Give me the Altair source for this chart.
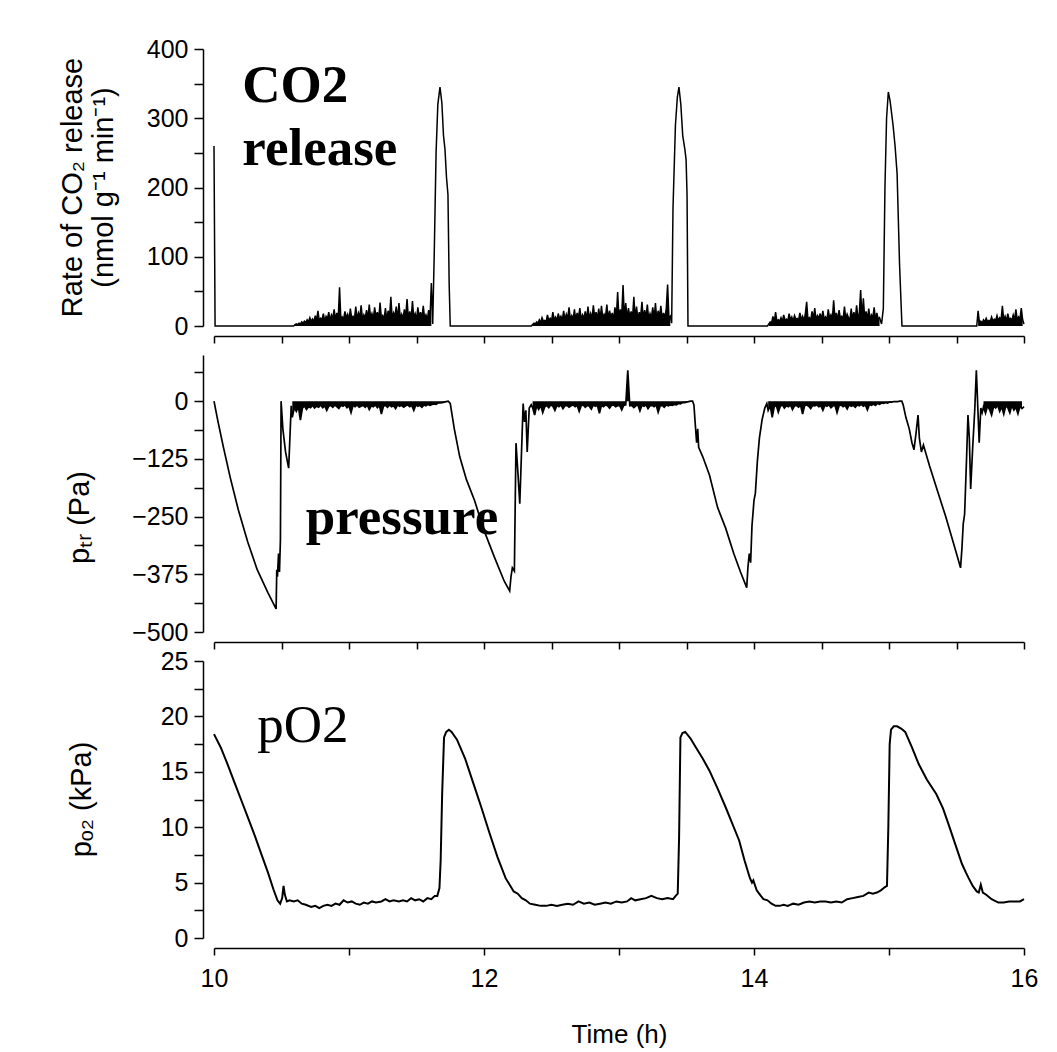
import altair as alt
import pandas as pd

# ---------------- CO2 release (nmol g-1 min-1) ----------------
co2_step = 0.01
co2_head_t = [10.0, 10.008, 10.59]
co2_head_v = [260, 0, 0]

co2_burst1_start = 10.60
co2_burst1 = [2, 3, 2, 4, 3, 6, 4, 7, 5, 9,
              6, 12, 7, 10, 6, 15, 8, 22, 7, 11,
              9, 18, 7, 14, 10, 20, 8, 16, 11, 24,
              9, 19, 10, 56, 8, 13, 10, 21, 12, 17,
              8, 25, 11, 14, 9, 28, 10, 19, 13, 30,
              9, 16, 11, 23, 10, 31, 12, 18, 10, 27,
              13, 20, 9, 34, 11, 15, 10, 26, 9, 22,
              12, 42, 10, 19, 14, 28, 9, 33, 11, 17,
              10, 24, 13, 39, 10, 21, 9, 36, 12, 18,
              9, 27, 13, 20, 10, 29, 11, 16, 9, 23,
              10, 62]
co2_peak1_t = [11.62, 11.632, 11.645, 11.658, 11.674, 11.688, 11.70, 11.711, 11.722, 11.733, 11.742, 11.75, 12.35]
co2_peak1_v = [3, 110, 250, 320, 345, 322, 275, 255, 215, 190, 60, 0, 0]

co2_burst2_start = 12.36
co2_burst2 = [2, 4, 3, 6, 4, 9, 5, 12, 7, 8,
              6, 16, 8, 11, 7, 20, 9, 13, 8, 18,
              10, 14, 8, 22, 9, 17, 11, 27, 9, 15,
              10, 24, 8, 19, 12, 26, 9, 16, 11, 21,
              9, 28, 11, 18, 10, 30, 13, 20, 10, 25,
              9, 29, 11, 17, 13, 31, 10, 22, 12, 19,
              9, 27, 12, 49, 10, 24, 14, 59, 11, 33,
              10, 26, 13, 21, 11, 42, 10, 28, 9, 20,
              13, 35, 10, 23, 12, 31, 9, 18, 12, 27,
              10, 33, 9, 22, 13, 29, 10, 19, 11, 25,
              60, 11, 14]
co2_peak2_t = [13.39, 13.40, 13.418, 13.432, 13.444, 13.458, 13.472, 13.488, 13.497, 13.504, 13.511, 14.10]
co2_peak2_v = [4, 170, 290, 330, 345, 320, 275, 255, 240, 190, 0, 0]

co2_burst3_start = 14.11
co2_burst3 = [3, 6, 4, 14, 6, 20, 6, 9, 7, 12,
              6, 16, 8, 10, 7, 18, 9, 13, 7, 15,
              10, 11, 8, 19, 9, 14, 8, 17, 35, 9,
              12, 8, 21, 10, 26, 8, 15, 11, 18, 9,
              22, 10, 13, 8, 24, 11, 16, 9, 37, 10,
              19, 8, 23, 11, 14, 9, 28, 10, 17, 12,
              8, 25, 10, 20, 9, 30, 11, 18, 52, 10,
              40, 12, 21, 9, 25, 10, 16, 12, 27, 9,
              19, 10, 12]
co2_peak3_t = [14.945, 14.958, 14.97, 14.982, 14.995, 15.008, 15.03, 15.045, 15.06, 15.078, 15.096, 15.65]
co2_peak3_v = [3, 25, 200, 300, 338, 325, 290, 260, 220, 90, 0, 0]

co2_burst4_start = 15.66
co2_burst4 = [22, 5, 7, 4, 9, 6, 11, 6, 8, 7,
              13, 7, 10, 8, 15, 8, 12, 9, 29, 8,
              14, 7, 18, 9, 11, 8, 16, 9, 24, 8,
              13, 10, 26, 9]
co2_tail_t = [16.0]
co2_tail_v = [3]

# ---------------- Tracheal pressure (Pa) ----------------
p_step = 0.015
p_cyc0_t = [10.0, 10.03, 10.07, 10.12, 10.18, 10.25, 10.32, 10.40, 10.46,
            10.465, 10.47, 10.478, 10.485, 10.492, 10.497, 10.51, 10.53, 10.553, 10.565, 10.572]
p_cyc0_v = [0, -45, -100, -165, -235, -305, -365, -415, -450,
            -365, -380, -330, -370, -300, 0, -60, -110, -145, -60, -10]
p_flatA_start = 10.58
p_flatA = [-35, -14, -22, -12, -41, -15, -10, -18, -12, -14,
           -9, -15, -11, -13, -8, -14, -10, -20, -11, -9,
           -13, -8, -12, -16, -9, -11, -8, -14, -10, -25,
           -9, -12, -8, -13, -11, -9, -13, -8, -18, -10,
           -12, -8, -14, -9, -28, -11, -9, -13, -8, -12,
           -10, -16, -8, -11, -9, -13, -10, -8, -12, -9,
           -20, -8, -11, -9, -13, -8, -10, -7, -9, -7,
           -6, -7, -4, -4, -3, -2, -1, 0]
p_cyc1_t = [11.75, 11.78, 11.82, 11.87, 11.93, 12.0, 12.08, 12.15, 12.19,
            12.20, 12.21, 12.225, 12.237, 12.25, 12.265, 12.29, 12.30, 12.31, 12.32, 12.335, 12.35]
p_cyc1_v = [-5, -60, -120, -170, -215, -280, -340, -390, -411,
            -380, -361, -368, -91, -150, -222, -5, -45, -20, -110, -15, -8]
p_flatB_start = 12.36
p_flatB = [-14, -30, -10, -18, -9, -25, -12, -9, -14, -8,
           -11, -20, -9, -12, -8, -16, -10, -9, -13, -10,
           -8, -12, -9, -22, -10, -8, -13, -9, -11, -17,
           -8, -11, -9, -26, -9, -12, -8, -10, -15, -9,
           -8, -12, -10, -9, -19, -9, -8, 67, -10, -9,
           -14, -10, -8, -21, -9, -11, -8, -16, -10, -9,
           -12, -8, -24, -10, -9, -13, -8, -10, -8, -9,
           -7, -8, -5, -6, -3, -3, -2, -1, 0, 0]
p_cyc2_t = [13.555, 13.565, 13.575, 13.583, 13.59, 13.62, 13.67, 13.73, 13.79, 13.85, 13.90, 13.946,
            13.955, 13.965, 13.975, 13.985, 14.0, 14.01, 14.025, 14.04, 14.06, 14.08, 14.095]
p_cyc2_v = [-8, -50, -90, -60, -100, -120, -160, -230, -275, -330, -370, -404,
            -360, -330, -350, -270, -215, -200, -130, -80, -40, -15, -5]
p_flatC_start = 14.105
p_flatC = [-20, -10, -35, -12, -9, -24, -11, -8, -15, -10,
           -12, -8, -18, -10, -9, -13, -9, -28, -10, -8,
           -11, -16, -9, -10, -8, -12, -10, -20, -9, -11,
           -8, -14, -10, -9, -25, -10, -8, -12, -9, -17,
           -8, -11, -9, -13, -8, -10, -7, -11, -8, -19,
           -7, -9, -6, -9, -5, -7, -4, -5, -3, -4,
           -2, -2, -1, -1, -1, 0, 0]
p_cyc3_t = [15.105, 15.125, 15.15, 15.17, 15.185, 15.20, 15.215, 15.225, 15.24, 15.255, 15.30, 15.36,
            15.42, 15.48, 15.53, 15.54, 15.55, 15.56, 15.575, 15.585, 15.595, 15.605, 15.62, 15.635,
            15.647, 15.66, 15.668, 15.68, 15.69]
p_cyc3_v = [-8, -35, -60, -90, -105, -70, -30, -80, -110, -95, -140, -195,
            -250, -310, -361, -320, -265, -245, -120, -30, -80, -190, -100, -20,
            67, -30, -90, -15, -25]
p_flatD_start = 15.70
p_flatD = [-12, -26, -10, -18, -30, -11, -15, -9, -22, -12,
           -28, -10, -14, -25, -9, -19, -13, -27, -11, -16]
p_tail_t = [16.0]
p_tail_v = [-12]

# ---------------- pO2 (kPa) ----------------
po2_t = [10.0, 10.05, 10.10, 10.15, 10.20, 10.25, 10.30, 10.35, 10.40, 10.44, 10.47, 10.49,
         10.505, 10.515, 10.525, 10.54, 10.56, 10.59, 10.62, 10.65, 10.68, 10.72, 10.75, 10.78,
         10.81, 10.84, 10.87, 10.90, 10.93, 10.96, 10.99, 11.02, 11.05, 11.08, 11.11, 11.14,
         11.17, 11.20, 11.24, 11.27, 11.30, 11.33, 11.37, 11.40, 11.43, 11.46, 11.49, 11.52,
         11.55, 11.58, 11.61, 11.635, 11.654, 11.67, 11.679, 11.69, 11.704, 11.72, 11.74, 11.76,
         11.80, 11.86, 11.92, 11.98, 12.04, 12.10, 12.16, 12.20, 12.22, 12.25, 12.28, 12.31,
         12.34, 12.38, 12.42, 12.46, 12.50, 12.54, 12.58, 12.62, 12.66, 12.70, 12.74, 12.78,
         12.82, 12.86, 12.90, 12.94, 12.98, 13.02, 13.06, 13.09, 13.12, 13.16, 13.20, 13.24,
         13.28, 13.32, 13.36, 13.40, 13.42, 13.435, 13.445, 13.455, 13.47, 13.49, 13.51, 13.53,
         13.57, 13.62, 13.67, 13.73, 13.79, 13.84, 13.89, 13.93, 13.97, 13.985, 13.995, 14.02,
         14.045, 14.07, 14.10, 14.13, 14.16, 14.19, 14.22, 14.25, 14.29, 14.33, 14.37, 14.41,
         14.45, 14.49, 14.53, 14.57, 14.61, 14.65, 14.69, 14.73, 14.77, 14.81, 14.85, 14.88,
         14.91, 14.94, 14.97, 14.985, 14.995, 15.005, 15.015, 15.035, 15.06, 15.09, 15.12, 15.17,
         15.22, 15.28, 15.35, 15.40, 15.44, 15.49, 15.54, 15.57, 15.59, 15.62, 15.65, 15.665,
         15.68, 15.695, 15.72, 15.76, 15.81, 15.85, 15.89, 15.93, 15.97, 16.0]
po2_v = [18.4, 17.2, 15.7, 14.1, 12.5, 10.9, 9.3, 7.6, 5.9, 4.4, 3.4, 3.1,
         3.6, 4.7, 3.9, 3.3, 3.4, 3.3, 3.4, 3.1, 3.0, 2.8, 2.9, 2.7,
         2.9, 3.0, 2.9, 3.1, 3.0, 3.4, 3.2, 3.3, 3.1, 3.0, 3.2, 3.1,
         3.3, 3.2, 3.3, 3.5, 3.3, 3.4, 3.3, 3.4, 3.3, 3.6, 3.4, 3.5,
         3.3, 3.6, 3.5, 3.8, 3.8, 4.5, 7.0, 13.0, 18.1, 18.6, 18.8, 18.6,
         17.9, 16.2, 14.0, 11.8, 9.5, 7.3, 5.4, 4.6, 4.2, 4.0, 3.6, 3.4,
         3.1, 3.0, 2.9, 2.9, 3.0, 2.9, 3.0, 3.1, 3.0, 3.3, 3.1, 3.2,
         3.0, 3.1, 3.2, 3.1, 3.3, 3.2, 3.3, 3.6, 3.4, 3.5, 3.6, 3.8,
         3.6, 3.5, 3.6, 3.5, 3.8, 4.0, 9.0, 18.1, 18.5, 18.6, 18.3, 18.0,
         17.2, 16.2, 15.1, 13.5, 11.8, 10.3, 8.8, 7.0, 5.4, 5.0, 5.2, 4.3,
         3.9, 3.5, 3.4, 3.1, 2.9, 2.9, 3.0, 2.9, 3.1, 3.0, 3.2, 3.3,
         3.2, 3.3, 3.3, 3.2, 3.3, 3.2, 3.5, 3.6, 3.7, 3.8, 4.1, 4.0,
         4.1, 4.3, 4.6, 4.7, 10.0, 17.5, 18.8, 19.1, 19.1, 18.9, 18.6, 17.2,
         15.7, 14.3, 13.0, 11.7, 10.3, 8.5, 6.7, 5.9, 5.4, 4.7, 4.2, 4.1,
         4.8, 4.1, 3.9, 3.5, 3.2, 3.2, 3.3, 3.3, 3.3, 3.5]

# ---------------- annotations ----------------
co2_note_label = ["CO2", "release"]
co2_note_t = [10.21, 10.21]
co2_note_v = [323, 232]
p_note_label = ["pressure"]
p_note_t = [10.68]
p_note_v = [-287]
po2_note_label = ["pO2"]
po2_note_t = [10.32]
po2_note_v = [17.7]


def regular(start, step, values, seg):
    return [round(start + i * step, 4) for i in range(len(values))], list(values), seg


def plain(t, v):
    return list(t), list(v), 0


def assemble(parts):
    ts, vs, ss = [], [], []
    for t, v, s in parts:
        ts += list(t)
        vs += list(v)
        ss += [s] * len(t)
    return pd.DataFrame({"t": ts, "v": vs, "base": [0] * len(ts), "seg": ss,
                         "i": list(range(len(ts)))})


co2_df = assemble([
    plain(co2_head_t, co2_head_v),
    regular(co2_burst1_start, co2_step, co2_burst1, 1),
    plain(co2_peak1_t, co2_peak1_v),
    regular(co2_burst2_start, co2_step, co2_burst2, 2),
    plain(co2_peak2_t, co2_peak2_v),
    regular(co2_burst3_start, co2_step, co2_burst3, 3),
    plain(co2_peak3_t, co2_peak3_v),
    regular(co2_burst4_start, co2_step, co2_burst4, 4),
    plain(co2_tail_t, co2_tail_v),
])
p_df = assemble([
    plain(p_cyc0_t, p_cyc0_v),
    regular(p_flatA_start, p_step, p_flatA, 1),
    plain(p_cyc1_t, p_cyc1_v),
    regular(p_flatB_start, p_step, p_flatB, 2),
    plain(p_cyc2_t, p_cyc2_v),
    regular(p_flatC_start, p_step, p_flatC, 3),
    plain(p_cyc3_t, p_cyc3_v),
    regular(p_flatD_start, p_step, p_flatD, 4),
    plain(p_tail_t, p_tail_v),
])
po2_df = assemble([plain(po2_t, po2_v)])

co2_band = co2_df[co2_df["seg"] > 0]
p_band = p_df[p_df["seg"] > 0]

co2_note = pd.DataFrame({"t": co2_note_t, "v": co2_note_v, "label": co2_note_label})
p_note = pd.DataFrame({"t": p_note_t, "v": p_note_v, "label": p_note_label})
po2_note = pd.DataFrame({"t": po2_note_t, "v": po2_note_v, "label": po2_note_label})

W, H = 810, 277
xscale = alt.Scale(domain=[10, 16], nice=False, zero=False)
half_hours = [10 + 0.5 * k for k in range(13)]
hours = [10, 11, 12, 13, 14, 15, 16]

x_plain = alt.X("t:Q", scale=xscale,
                axis=alt.Axis(values=half_hours, labels=False, title=None, offset=10,
                              tickSize=7, grid=False))
x_bottom = alt.X("t:Q", scale=xscale,
                 axis=alt.Axis(values=hours, labelExpr="datum.value % 2 == 0 ? datum.label : ''",
                               labelFlush=False, labelOverlap=False, offset=10, tickSize=7,
                               labelPadding=11, title="Time (h)", titleY=86, titleFontSize=26,
                               titleBaseline="middle", grid=False))

y_co2 = alt.Y("v:Q", scale=alt.Scale(domain=[0, 400], nice=False),
              axis=alt.Axis(values=[50 * k for k in range(9)],
                            labelExpr="datum.value % 100 == 0 ? datum.label : ''",
                            labelOverlap=False, offset=11, tickSize=9, labelPadding=6,
                            title=["Rate of CO\u2082 release", "(nmol g\u207b\u00b9 min\u207b\u00b9)"],
                            titleX=-131, titleY=138, titleBaseline="middle",
                            titleLineHeight=31, grid=False))
y_p = alt.Y("v:Q", scale=alt.Scale(domain=[-500, 100], nice=False, zero=False),
            axis=alt.Axis(values=[-500 + 62.5 * k for k in range(10)],
                          labelExpr="datum.value % 125 == 0 ? datum.label : ''",
                          labelOverlap=False, offset=11, tickSize=9, labelPadding=6,
                          title="p\u209c\u1d63 (Pa)", titleX=-124, titleY=162,
                          titleBaseline="middle", grid=False))
y_po2 = alt.Y("v:Q", scale=alt.Scale(domain=[0, 25], nice=False),
              axis=alt.Axis(values=[2.5 * k for k in range(11)],
                            labelExpr="datum.value % 5 == 0 ? datum.label : ''",
                            labelOverlap=False, offset=11, tickSize=9, labelPadding=6,
                            title="p\u2092\u2082 (kPa)", titleX=-122, titleY=138,
                            titleBaseline="middle", grid=False))

note_style = dict(font="Liberation Serif", fontSize=53, align="left",
                  baseline="alphabetic", color="black")

top = alt.layer(
    alt.Chart(co2_band).mark_area(color="black", opacity=1).encode(
        x=x_plain, y=y_co2, y2="base:Q", detail="seg:N"),
    alt.Chart(co2_df).mark_line(color="black", strokeWidth=1.5).encode(
        x=x_plain, y=y_co2, order="i:Q"),
    alt.Chart(co2_note).mark_text(fontWeight="bold", **note_style).encode(
        x=x_plain, y=y_co2, text="label:N"),
).properties(width=W, height=H)

mid = alt.layer(
    alt.Chart(p_band).mark_area(color="black", opacity=1).encode(
        x=x_plain, y=y_p, y2="base:Q", detail="seg:N"),
    alt.Chart(p_df).mark_line(color="black", strokeWidth=1.7).encode(
        x=x_plain, y=y_p, order="i:Q"),
    alt.Chart(p_note).mark_text(fontWeight="bold", **note_style).encode(
        x=x_plain, y=y_p, text="label:N"),
).properties(width=W, height=H)

bot = alt.layer(
    alt.Chart(po2_df).mark_line(color="black", strokeWidth=2).encode(
        x=x_bottom, y=y_po2, order="i:Q"),
    alt.Chart(po2_note).mark_text(fontWeight="normal", **note_style).encode(
        x=x_bottom, y=y_po2, text="label:N"),
).properties(width=W, height=H)

chart = alt.vconcat(top, mid, bot, spacing=29, bounds="flush").properties(
    padding={"left": 49, "top": 28, "right": 5, "bottom": 5},
    background="white",
).configure_view(stroke="transparent").configure_axis(
    domainColor="black", tickColor="black", labelColor="black", titleColor="black",
    labelFont="Liberation Sans", titleFont="Liberation Sans", labelFontSize=25,
    titleFontSize=29, titleFontWeight="normal", domainWidth=1.5, tickWidth=1.5,
)

chart.save("out.html", embed_options={"renderer": "svg", "actions": False})
